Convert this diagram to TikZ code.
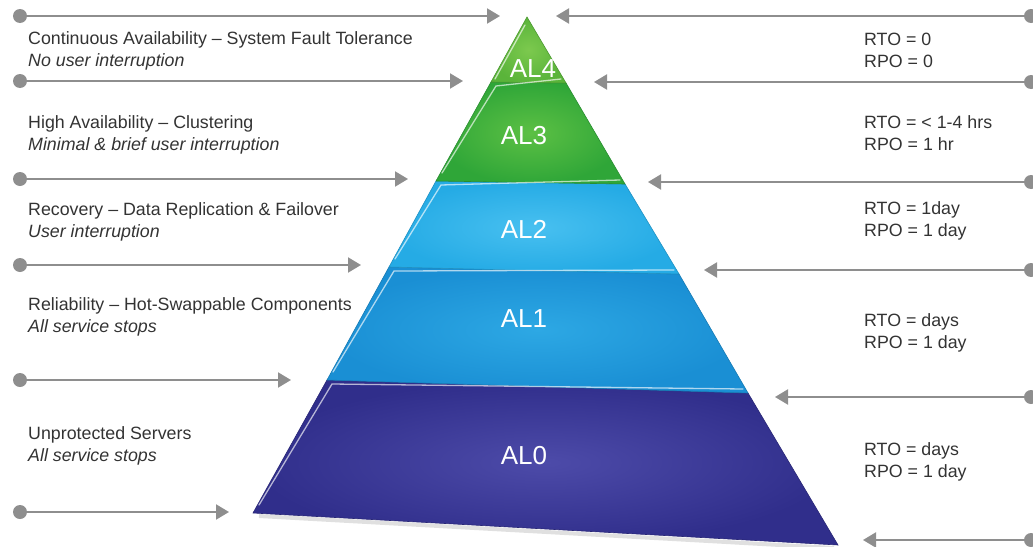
\documentclass[tikz,border=0pt]{standalone}
\usepackage{fontspec}
\setmainfont{Liberation Sans}
\usepackage{tikz}
\usetikzlibrary{arrows.meta}
\usepackage{xcolor}
\definecolor{linegray}{HTML}{8E8E8E}
\definecolor{txtgray}{HTML}{333333}
\definecolor{alfourin}{HTML}{7CC94E}
\definecolor{alfourout}{HTML}{5AB43A}
\definecolor{althreein}{HTML}{5CC044}
\definecolor{althreeout}{HTML}{2FA638}
\definecolor{altwoin}{HTML}{48C0F0}
\definecolor{altwoout}{HTML}{25ABE5}
\definecolor{alonein}{HTML}{2DA8E4}
\definecolor{aloneout}{HTML}{1A8FD4}
\definecolor{alzeroin}{HTML}{4D4BA9}
\definecolor{alzeroout}{HTML}{302E8B}

\begin{document}
\begin{tikzpicture}[x=1pt,y=-1pt,
    arr/.style={draw=linegray,line width=2pt,-{Triangle[length=13pt,width=15pt]}},
    dot/.style={circle,fill=linegray,inner sep=0pt,minimum size=14pt},
    band/.style={shading=radial,inner color=#1in,outer color=#1out,draw=#1out!85!black,line width=.6pt},
    gloss/.style={draw=white,opacity=.65,line width=1.3pt,line cap=round},
    lvl/.style={text=white,font=\fontsize{26}{30}\selectfont},
    desc/.style={text=txtgray,font=\fontsize{17.8}{22}\selectfont,align=left,anchor=west,inner sep=0pt}]
  \useasboundingbox (0,0) rectangle (1033,546);

  % arrows coming in from the left
  \foreach \y/\x [count=\i] in {16/500,81/463,179/408,265/361,380/291,512/229}{
    \node[dot] (ld\i) at (20,\y) {};
    \coordinate (lt\i) at (\x,\y);
    \draw[arr] (ld\i) -- (lt\i);
  }
  % arrows coming in from the right
  \foreach \y/\x [count=\i] in {16/556,82/594,182/648,270/704,397/775,540/863}{
    \node[dot] (rd\i) at (1031,\y) {};
    \coordinate (rt\i) at (\x,\y);
    \draw[arr] (rd\i) -- (rt\i);
  }

  % corners of the pyramid
  \coordinate (apex) at (527,17);
  \coordinate (l4) at (491,82);  \coordinate (r4) at (566,83);
  \coordinate (l3) at (436,181); \coordinate (r3) at (625,184);
  \coordinate (l2) at (389,267); \coordinate (r2) at (679,274);
  \coordinate (l1) at (327,380); \coordinate (r1) at (748,393);
  \coordinate (l0) at (253,513); \coordinate (r0) at (838,545);

  % soft shadow under the base
  \draw[black,opacity=.12,line width=4pt] ([shift={(6,3)}]l0) -- ([shift={(-4,3)}]r0);

  % the five levels
  \path[band=alzero]  (l1) -- (r1) -- (r0) -- (l0) -- cycle;
  \path[band=alone]   (l2) -- (r2) -- (r1) -- (l1) -- cycle;
  \path[band=altwo]   (l3) -- (r3) -- (r2) -- (l2) -- cycle;
  \path[band=althree] (l4) -- (r4) -- (r3) -- (l3) -- cycle;
  \path[band=alfour]  (apex) -- (r4) -- (l4) -- cycle;

  % glossy edges
  \draw[gloss] ([shift={(-2,8)}]apex) -- ([shift={(4,-3)}]l4);
  \foreach \a/\b/\c in {l4/r4/l3, l3/r3/l2, l2/r2/l1, l1/r1/l0}{
    \draw[gloss] ([shift={(-5,-4)}]\b) -- ([shift={(5,4)}]\a) -- ([shift={(6,-8)}]\c);
  }

  \node[lvl] (al4) at (533,69)  {AL4};
  \node[lvl] (al3) at (524,136) {AL3};
  \node[lvl] (al2) at (524,229) {AL2};
  \node[lvl] (al1) at (524,319) {AL1};
  \node[lvl] (al0) at (524,456) {AL0};

  % what each level means
  \node[desc] (ca) at (28,51)  {Continuous Availability -- System Fault Tolerance\\\textit{No user interruption}};
  \node[desc] (ha) at (28,135) {High Availability -- Clustering\\\textit{Minimal \& brief user interruption}};
  \node[desc] (rc) at (28,222) {Recovery -- Data Replication \& Failover\\\textit{User interruption}};
  \node[desc] (rl) at (28,317) {Reliability -- Hot-Swappable Components\\\textit{All service stops}};
  \node[desc] (up) at (28,446) {Unprotected Servers\\\textit{All service stops}};

  % recovery objectives
  \node[desc] (o4) at (864,50)  {RTO = 0\\RPO = 0};
  \node[desc] (o3) at (864,133) {RTO = < 1-4 hrs\\RPO = 1 hr};
  \node[desc] (o2) at (864,221) {RTO = 1day\\RPO = 1 day};
  \node[desc] (o1) at (864,333) {RTO = days\\RPO = 1 day};
  \node[desc] (o0) at (864,462) {RTO = days\\RPO = 1 day};
\end{tikzpicture}
\end{document}
